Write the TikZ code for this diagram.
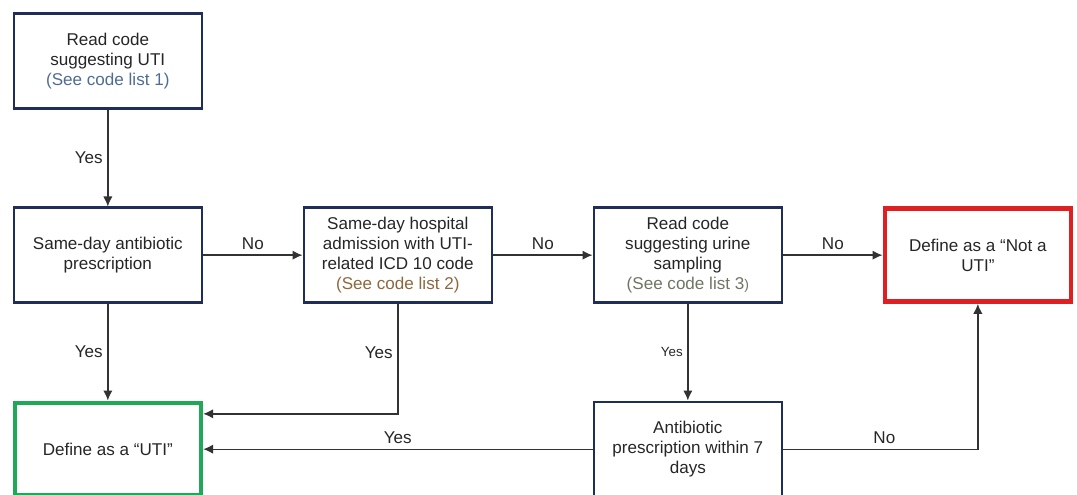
\documentclass[tikz,border=0pt]{standalone}
\usepackage{fontspec}
\setmainfont{Liberation Sans}
\usepackage{tikz}
\usetikzlibrary{positioning,arrows.meta}
\definecolor{BoxNavy}{RGB}{31,45,88}
\definecolor{NotRed}{RGB}{222,32,34}
\definecolor{UtiGreen}{RGB}{32,168,88}
\definecolor{TextGrey}{RGB}{38,38,38}
\definecolor{LineGrey}{RGB}{50,50,50}
\definecolor{ListOne}{RGB}{78,108,148}
\definecolor{ListTwo}{RGB}{140,104,62}
\definecolor{ListThree}{RGB}{108,118,98}

\begin{document}
\begin{tikzpicture}[
x=0.75pt, y=-0.75pt,
node distance=72.5pt and 74.5pt,
box/.style={draw=BoxNavy, line width=2pt, minimum width=141pt, minimum height=71pt, align=center, text=TextGrey, font=\fontsize{12.8}{15.2}\selectfont, inner sep=2pt},
endbox/.style={box, line width=3.5pt, minimum width=139.5pt, minimum height=69.5pt},
arrow/.style={-{Latex[length=7.5pt,width=7pt]}, line width=1pt, LineGrey},
lbl/.style={text=TextGrey, font=\fontsize{12.8}{15.2}\selectfont}
]
\useasboundingbox (0,0) rectangle (1077,495);
\node[box, anchor=north west] (readuti) at (12.5,12.5) {Read code\\suggesting UTI\\{\color{ListOne}(See code list 1)}};
\node[box, below=of readuti] (abx) {Same-day antibiotic\\prescription};
\node[box, right=of abx] (hosp) {Same-day hospital\\admission with UTI-\\related ICD 10 code\\{\color{ListTwo}(See code list 2)}};
\node[box, right=of hosp] (urine) {Read code\\suggesting urine\\sampling\\{\color{ListThree}(See code list 3{\fontsize{10.5}{12}\selectfont)}}};
\node[endbox, draw=NotRed, right=of urine] (notuti) {Define as a “Not a\\UTI”};
\node[endbox, draw=UtiGreen, below=of abx] (uti) {Define as a “UTI”};
\node[box, below=of urine] (antib) {Antibiotic\\prescription within 7\\days};
\draw[arrow] (readuti) -- node[lbl, left] {Yes} (abx);
\draw[arrow] (abx) -- node[lbl, above] {No} (hosp);
\draw[arrow] (hosp) -- node[lbl, above] {No} (urine);
\draw[arrow] (urine) -- node[lbl, above] {No} (notuti);
\draw[arrow] (abx) -- node[lbl, left] {Yes} (uti);
\draw[arrow] (hosp) |- node[lbl, left, pos=0.22] {Yes} ([yshift=26.5pt]uti.east);
\draw[arrow] (urine) -- node[lbl, left, font=\fontsize{10}{12}\selectfont] {Yes} (antib);
\draw[arrow] (antib) -- node[lbl, above] {Yes} (uti);
\draw[arrow] (antib) -| node[lbl, above, pos=0.26] {No} (notuti);
\end{tikzpicture}
\end{document}
